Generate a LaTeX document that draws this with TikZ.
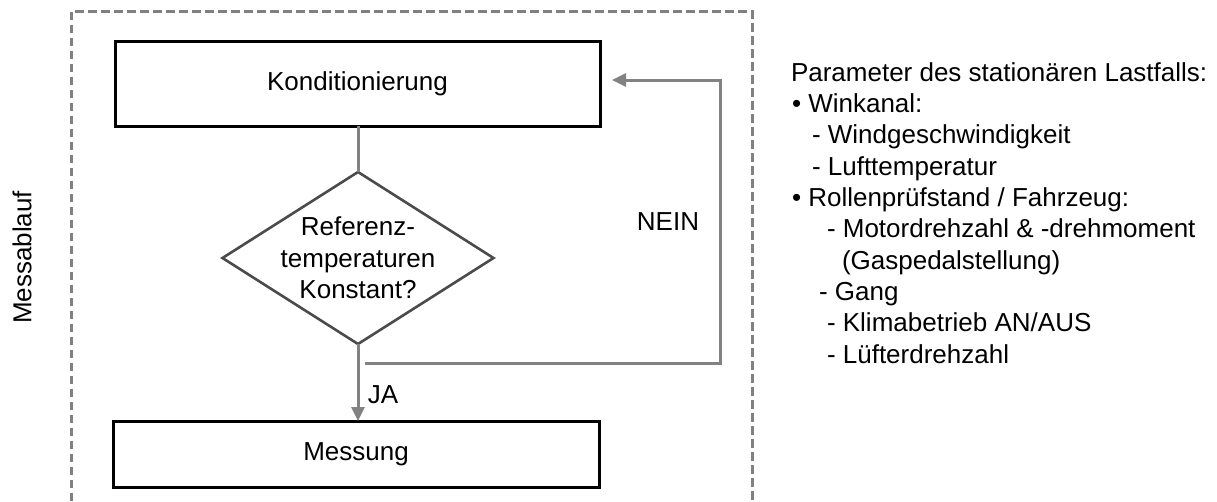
\documentclass[tikz,border=0pt]{standalone}
\usepackage{fontspec}
\setmainfont{Liberation Sans}
\usetikzlibrary{shapes.geometric,arrows.meta}
\definecolor{flowgray}{RGB}{130,130,130}
\definecolor{framegray}{RGB}{128,128,128}
\definecolor{diagline}{RGB}{75,75,75}
\begin{document}
\begin{tikzpicture}[x=1pt,y=-1pt,
  every node/.style={font=\fontsize{26}{31.3}\selectfont, inner sep=0pt, outer sep=0pt},
  box/.style={draw=black, line width=3pt, rectangle},
  decision/.style={draw=diagline, line width=2.6pt, shape=diamond},
  flow/.style={draw=flowgray, line width=3pt},
  flowarrow/.style={flow, -{Triangle[length=14pt,width=13pt]}},
  frame/.style={draw=framegray, line width=3pt, dash pattern=on 8.5pt off 4.5pt},
  txt/.style={anchor=base west}
]
\useasboundingbox (0,0) rectangle (1217,501);

% process frame (open at the bottom)
\draw[frame] (71,501) -- (71,11) -- (752,11) -- (752,501);
\node[rotate=90] (lbl) at (22,257.5) {Messablauf};

% flow chart
\node[box, minimum width=485pt, minimum height=85pt] (kond) at (357.5,83.5) {Konditionierung};
\node[decision, minimum width=271pt, minimum height=172pt,
      label={[align=center]center:Referenz-\\temperaturen\\Konstant?}] (dia) at (358,258) {};
\node[box, minimum width=486pt, minimum height=66pt] (mess) at (356,454) {Messung};

\draw[flow] (kond.south -| dia.north) -- (dia.north);
\draw[flowarrow] (dia.south) -- (dia.south |- mess.north);
\node (ja) at (383,395) {JA};

% return loop
\coordinate (lp) at (365,363);
\coordinate (rt) at (612,80);
\draw[flowarrow] (lp) -- (720,363) |- (rt);
\node (nein) at (668,222) {NEIN};

% parameter list
\node[txt] (p0) at (791,81) {Parameter des stationären Lastfalls:};
\node[txt] (p1) at (792,112.3) {• Winkanal:};
\node[txt] (p2) at (812,143.7) {- Windgeschwindigkeit};
\node[txt] (p3) at (812,175) {- Lufttemperatur};
\node[txt] (p4) at (792,206.3) {• Rollenprüfstand / Fahrzeug:};
\node[txt] (p5) at (827,237.7) {- Motordrehzahl \& -drehmoment};
\node[txt] (p6) at (842,269) {(Gaspedalstellung)};
\node[txt] (p7) at (819,300.3) {- Gang};
\node[txt] (p8) at (827,331.7) {- Klimabetrieb AN/AUS};
\node[txt] (p9) at (827,363) {- Lüfterdrehzahl};
\end{tikzpicture}
\end{document}
